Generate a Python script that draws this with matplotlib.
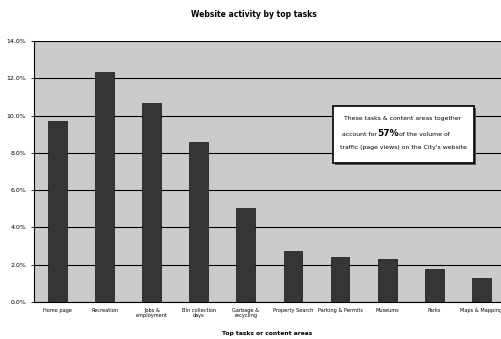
import matplotlib.pyplot as plt
from matplotlib.ticker import FuncFormatter
from matplotlib.patches import Rectangle

tasks = ['Home page', 'Recreation', 'Jobs &\nemployment', 'Bin collection\ndays', 'Garbage &\nrecycling',
         'Property Search', 'Parking & Permits', 'Museums', 'Parks', 'Maps & Mapping']
share = [9.7, 12.35, 10.65, 8.6, 5.05, 2.75, 2.4, 2.3, 1.78, 1.28]
yticks = [0, 2, 4, 6, 8, 10, 12, 14]

W, H = 502, 339
fig = plt.figure(figsize=(W / 100, H / 100), dpi=100)
ax = fig.add_axes([34 / W, 1 - 302 / H, 468 / W, 261 / H])
ax.set_facecolor('#cbcbcb')

x = list(range(len(tasks)))
ax.bar(x, share, width=0.4, color='#353535', edgecolor='#111111', linewidth=0.5, zorder=3)

ax.set_ylim(0, 14)
ax.set_xlim(-0.5, 9.44)
ax.set_yticks(yticks)
ax.yaxis.set_major_formatter(FuncFormatter(lambda v, _: '%.1f%%' % v))
ax.grid(axis='y', color='black', linewidth=0.8, zorder=1)
ax.set_xticks(x)
ax.set_xticklabels(tasks, fontsize=3.6)
ax.tick_params(axis='y', labelsize=4.5, length=2, width=0.6)
ax.tick_params(axis='x', length=0, pad=4)
for s in ['top', 'right']:
    ax.spines[s].set_visible(False)
ax.spines['left'].set_linewidth(0.8)
ax.spines['bottom'].set_linewidth(0.8)

fig.text(0.505, 0.958, 'Website activity by top tasks', ha='center', va='center', fontsize=5.5, fontweight='bold')
fig.text(267 / W, 1 - 333 / H, 'Top tasks or content areas', ha='center', va='center', fontsize=4.3, fontweight='bold')

# annotation box (pixel positions from the reference)
def fx(px):
    return px / W

def fy(py):
    return 1 - py / H

fig.patches.append(Rectangle((fx(335), fy(165)), fx(141), 57 / H, transform=fig.transFigure,
                             facecolor='#555555', edgecolor='none', zorder=4))
fig.patches.append(Rectangle((fx(333), fy(163)), fx(141), 57 / H, transform=fig.transFigure,
                             facecolor='white', edgecolor='black', linewidth=1.2, zorder=5))
fig.text(fx(403), fy(119), 'These tasks & content areas together', ha='center', va='center', fontsize=4.4, zorder=6)
fig.text(fx(377), fy(134), 'account for', ha='right', va='center', fontsize=4.4, zorder=6)
fig.text(fx(388), fy(133), '57%', ha='center', va='center', fontsize=6.5, fontweight='bold', zorder=6)
fig.text(fx(399), fy(134), 'of the volume of', ha='left', va='center', fontsize=4.4, zorder=6)
fig.text(fx(403), fy(148), "traffic (page views) on the City's website", ha='center', va='center', fontsize=4.4, zorder=6)

fig.savefig('out.png', dpi=100)
